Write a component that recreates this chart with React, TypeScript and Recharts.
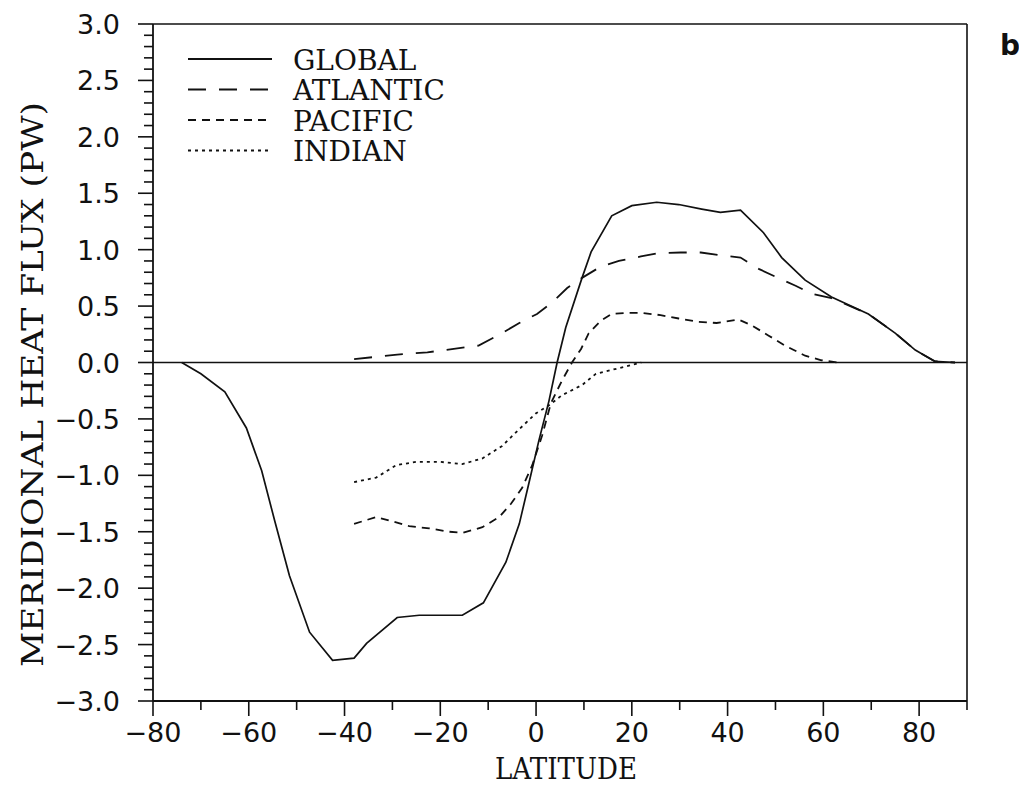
import React from "react";
import { LineChart, Line, XAxis, YAxis, ReferenceLine } from "recharts";

// ---- data ----
const GLOBAL_LAT = [-74, -70, -65, -60.5, -57.3, -54.6, -51.5, -47.3, -42.5, -38, -35.4, -29, -24.4, -15.4, -11, -6.3, -3.5, -1.5, 0.6, 2.7, 4.4, 6.2, 9.6, 11.5, 15.8, 20, 25.2, 29.8, 34.6, 38.5, 42.7, 47.5, 51.3, 56.2, 61.7, 69.4, 75, 79.2, 83.3, 87.5];
const GLOBAL_FLUX = [0, -0.1, -0.26, -0.58, -0.96, -1.4, -1.89, -2.39, -2.64, -2.62, -2.49, -2.26, -2.24, -2.24, -2.13, -1.77, -1.43, -1.07, -0.69, -0.34, 0, 0.31, 0.75, 0.98, 1.3, 1.39, 1.42, 1.4, 1.36, 1.33, 1.35, 1.15, 0.93, 0.73, 0.58, 0.43, 0.26, 0.11, 0.01, 0];

const ATLANTIC_LAT = [-38, -29, -22.7, -12, -6.7, -3.5, 0.2, 3.3, 6.5, 9.6, 13.5, 17.3, 21.9, 25.6, 30.2, 34.4, 38.5, 42.7, 46.5, 50, 54.2, 57.5, 61.7, 69.4, 75, 79.2, 83.3, 87.5];
const ATLANTIC_FLUX = [0.03, 0.07, 0.09, 0.15, 0.27, 0.35, 0.43, 0.53, 0.66, 0.75, 0.85, 0.9, 0.94, 0.97, 0.975, 0.975, 0.95, 0.93, 0.83, 0.76, 0.68, 0.61, 0.57, 0.43, 0.26, 0.11, 0.01, 0];

const PACIFIC_LAT = [-38, -33.4, -30.6, -26.5, -22.3, -18.1, -15.4, -11.2, -7.7, -5.2, -2.9, -0.8, 1.25, 3.1, 5.3, 7.5, 9.4, 11, 13.5, 15.8, 19.4, 22, 26, 29.8, 34, 37.7, 42.3, 45, 48.5, 52, 56.2, 59.6, 63];
const PACIFIC_FLUX = [-1.43, -1.37, -1.4, -1.45, -1.47, -1.5, -1.51, -1.46, -1.37, -1.25, -1.11, -0.91, -0.65, -0.36, -0.17, 0, 0.12, 0.26, 0.37, 0.43, 0.44, 0.44, 0.42, 0.39, 0.36, 0.35, 0.38, 0.33, 0.24, 0.15, 0.06, 0.02, 0];

const INDIAN_LAT = [-38, -33.4, -29.2, -25, -20.2, -15.4, -11.2, -7.1, -3.5, 0, 2.7, 5.4, 9.6, 12.5, 17.3, 22];
const INDIAN_FLUX = [-1.06, -1.02, -0.91, -0.88, -0.88, -0.9, -0.85, -0.74, -0.59, -0.45, -0.38, -0.29, -0.2, -0.1, -0.05, 0];

const SERIES_NAMES = ["GLOBAL", "ATLANTIC", "PACIFIC", "INDIAN"];
const SERIES_DASH = ["", "18 13", "8 6", "3 4"];

const X_TICKS = [-80, -70, -60, -50, -40, -30, -20, -10, 0, 10, 20, 30, 40, 50, 60, 70, 80, 90];
const X_DOMAIN = [-80, 90];
const Y_DOMAIN = [-3, 3];
const Y_TICKS: number[] = [];
for (let i = -30; i <= 30; i++) Y_TICKS.push(i / 10);

const X_LABEL = "LATITUDE";
const Y_LABEL = "MERIDIONAL HEAT FLUX (PW)";
const PANEL_LABEL = "b";

const toPoints = (lat: number[], flux: number[]) => lat.map((l, i) => ({ lat: l, flux: flux[i] }));
const SERIES_DATA = [
  toPoints(GLOBAL_LAT, GLOBAL_FLUX),
  toPoints(ATLANTIC_LAT, ATLANTIC_FLUX),
  toPoints(PACIFIC_LAT, PACIFIC_FLUX),
  toPoints(INDIAN_LAT, INDIAN_FLUX),
];

const W = 1019;
const H = 786;
const INK = "#111";
const TICK_FONT = "'DejaVu Sans', sans-serif";
const SERIF = "'DejaVu Serif', 'Liberation Serif', serif";

const fmtY = (v: number) => {
  const s = Math.abs(v).toFixed(1);
  return v < -1e-9 ? "\u2212" + s : s;
};
const fmtX = (v: number) => (v < 0 ? "\u2212" + Math.abs(v) : String(v));

const YTick = (props: any) => {
  const { x, y, payload } = props;
  const v = payload.value;
  const major = Math.abs(v * 2 - Math.round(v * 2)) < 1e-6;
  return (
    <g>
      <line x1={x} x2={x - (major ? 15 : 9)} y1={y} y2={y} stroke={INK} strokeWidth={1.6} />
      {major && (
        <text x={x - 33} y={y} dy={10} textAnchor="end" fontFamily={TICK_FONT} fontSize={27} fill={INK}>
          {fmtY(v)}
        </text>
      )}
    </g>
  );
};

const XTick = (props: any) => {
  const { x, y, payload } = props;
  const v = payload.value;
  const major = v % 20 === 0;
  return (
    <g>
      <line x1={x} x2={x} y1={y} y2={y + (major ? 15 : 9)} stroke={INK} strokeWidth={1.6} />
      {major && (
        <text x={x} y={y + 41} textAnchor="middle" fontFamily={TICK_FONT} fontSize={27} fill={INK}>
          {fmtX(v)}
        </text>
      )}
    </g>
  );
};

const XLabel = (props: any) => {
  const vb = props.viewBox || {};
  const cx = vb.x + vb.width / 2 + 6;
  return (
    <text x={cx} y={vb.y + 78} textAnchor="middle" fontFamily={SERIF} fontSize={29} fill={INK}
      textLength={142} lengthAdjust="spacingAndGlyphs">
      {X_LABEL}
    </text>
  );
};

const YLabel = (props: any) => {
  const vb = props.viewBox || {};
  const cy = vb.y + vb.height / 2 + 22;
  const cx = 43;
  return (
    <text x={cx} y={cy} textAnchor="middle" fontFamily={SERIF} fontSize={29} fill={INK}
      transform={`rotate(-90 ${cx} ${cy})`} textLength={565} lengthAdjust="spacingAndGlyphs">
      {Y_LABEL}
    </text>
  );
};

export default function App() {
  return (
    <div style={{ position: "absolute", left: 0, top: 0, width: W, height: H, background: "#fff", overflow: "hidden" }}>
      <LineChart width={W} height={H} margin={{ top: 24, right: 52, bottom: 25, left: 53 }}>
        <XAxis
          dataKey="lat"
          type="number"
          domain={X_DOMAIN}
          ticks={X_TICKS}
          interval={0}
          allowDataOverflow
          height={60}
          tickSize={0}
          tickMargin={0}
          tickLine={false}
          tick={<XTick />}
          axisLine={{ stroke: INK, strokeWidth: 1.8 }}
          label={<XLabel />}
        />
        <YAxis
          type="number"
          domain={Y_DOMAIN}
          ticks={Y_TICKS}
          interval={0}
          allowDataOverflow
          width={100}
          tickSize={0}
          tickMargin={0}
          tickLine={false}
          tick={<YTick />}
          axisLine={{ stroke: INK, strokeWidth: 1.8 }}
          label={<YLabel />}
        />
        <ReferenceLine y={Y_DOMAIN[1]} stroke={INK} strokeWidth={1.6} />
        <ReferenceLine x={X_DOMAIN[1]} stroke={INK} strokeWidth={1.6} />
        <ReferenceLine y={0} stroke={INK} strokeWidth={1.6} />
        {SERIES_DATA.map((d, i) => (
          <Line
            key={SERIES_NAMES[i]}
            data={d}
            dataKey="flux"
            name={SERIES_NAMES[i]}
            type="linear"
            stroke={INK}
            strokeWidth={i === 0 ? 1.7 : 1.8}
            strokeDasharray={SERIES_DASH[i] || undefined}
            dot={false}
            activeDot={false}
            isAnimationActive={false}
          />
        ))}
      </LineChart>
      <svg width={W} height={H} style={{ position: "absolute", left: 0, top: 0, pointerEvents: "none" }}>
        {SERIES_NAMES.map((n, i) => {
          const cy = 59 + i * 30.5;
          return (
            <g key={n}>
              <line x1={188} x2={272} y1={cy} y2={cy} stroke={INK} strokeWidth={1.8}
                strokeDasharray={SERIES_DASH[i] || undefined} />
              <text x={293} y={cy + 10.5} fontFamily={SERIF} fontSize={28} fill={INK}>
                {n}
              </text>
            </g>
          );
        })}
        <text x={1000} y={55} fontFamily="'DejaVu Sans', sans-serif" fontWeight="bold" fontSize={28} fill={INK}>
          {PANEL_LABEL}
        </text>
      </svg>
    </div>
  );
}
